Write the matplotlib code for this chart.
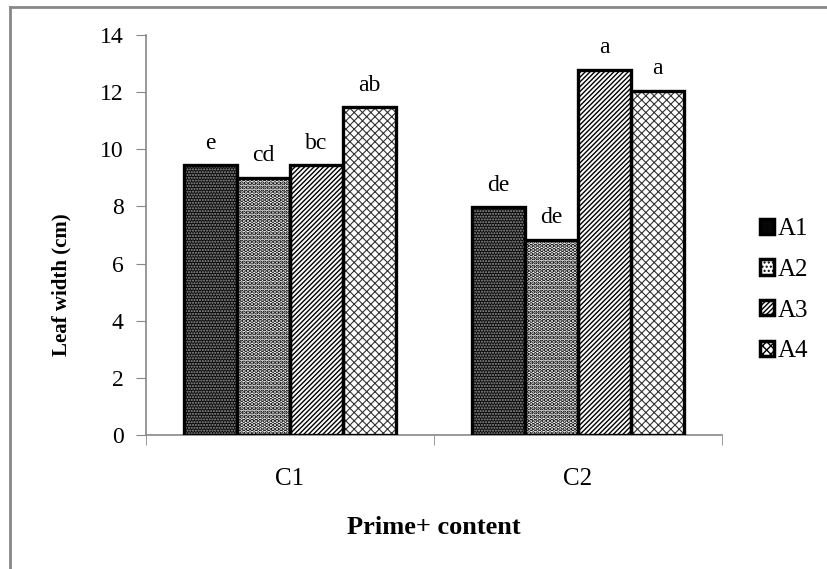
import matplotlib
matplotlib.use("Agg")
import matplotlib.pyplot as plt
from matplotlib.lines import Line2D
import numpy as np

categories = ["C1", "C2"]
series = ["A1", "A2", "A3", "A4"]
a1 = [9.45, 7.98]
a2 = [9.0, 6.83]
a3 = [9.45, 12.78]
a4 = [11.48, 12.05]
letters = [["e", "de"], ["cd", "de"], ["bc", "a"], ["ab", "a"]]
yticks = [0, 2, 4, 6, 8, 10, 12, 14]

plt.rcParams["font.family"] = ["Liberation Serif", "DejaVu Serif"]

fig = plt.figure(figsize=(8.28, 5.69), dpi=100)
ax = fig.add_axes([0.1763, 0.2355, 0.6957, 0.703])

values = [a1, a2, a3, a4]
styles = [
    dict(face="#0a0a0a", hatch="......", hcol="#999999", hlw=1.0),
    dict(face="white", hatch="....", hcol="black", hlw=2.2),
    dict(face="white", hatch="///////", hcol="black", hlw=1.0),
    dict(face="white", hatch="xxxx", hcol="#333333", hlw=0.8),
]
bw = 0.184
x = np.arange(len(categories))

for i, (vals, st) in enumerate(zip(values, styles)):
    pos = x + (i - 1.5) * bw
    with plt.rc_context({"hatch.linewidth": st["hlw"]}):
        ax.bar(pos, vals, width=bw, color=st["face"], edgecolor=st["hcol"],
               hatch=st["hatch"], linewidth=0, zorder=2)
    bars = ax.bar(pos, vals, width=bw, fill=False, edgecolor="black",
                  linewidth=2.4, zorder=3)
    for b, lab in zip(bars, letters[i]):
        ax.text(b.get_x() + b.get_width() / 2, b.get_height() + 0.4, lab,
                ha="center", va="bottom", fontsize=17)

ax.set_xlim(-0.5, 1.5)
ax.set_ylim(0, 14)
ax.set_yticks(yticks)
ax.set_xticks(x)
ax.set_xticklabels(categories, fontsize=18)
ax.set_xticks([-0.5, 0.5, 1.5], minor=True)
ax.tick_params(axis="x", which="major", length=0, pad=24)
ax.tick_params(axis="x", which="minor", length=7, color="#888888", direction="out")
ax.tick_params(axis="y", labelsize=17, length=7, color="#888888", pad=9)
for s in ["top", "right"]:
    ax.spines[s].set_visible(False)
for s in ["left", "bottom"]:
    ax.spines[s].set_color("#888888")
    ax.spines[s].set_linewidth(1.2)

ax.set_ylabel("Leaf width (cm)", fontsize=15, fontweight="bold", va="center", ha="center")
ax.yaxis.set_label_coords(-0.146, 0.375)
ax.set_xlabel("Prime+ content", fontsize=19, fontweight="bold", va="center")
ax.xaxis.set_label_coords(0.5, -0.23)

handles = []
for st in styles:
    with plt.rc_context({"hatch.linewidth": st["hlw"]}):
        handles.append(plt.Rectangle((0, 0), 1, 1, facecolor=st["face"], edgecolor="black",
                                     hatch=st["hatch"], linewidth=2.5))
leg = fig.legend(handles, series, loc="center left", bbox_to_anchor=(0.918, 0.49),
                 frameon=False, fontsize=18, handlelength=0.55, handleheight=0.55,
                 handletextpad=0.15, labelspacing=0.75, borderpad=0, borderaxespad=0)

# outer frame (top and left only visible)
fig.add_artist(Line2D([0.0121, 1.0], [0.9877, 0.9877], color="#888888", linewidth=2,
                      transform=fig.transFigure))
fig.add_artist(Line2D([0.0121, 0.0121], [0.0, 0.9877], color="#888888", linewidth=2,
                      transform=fig.transFigure))

fig.savefig("out.png", dpi=100)
